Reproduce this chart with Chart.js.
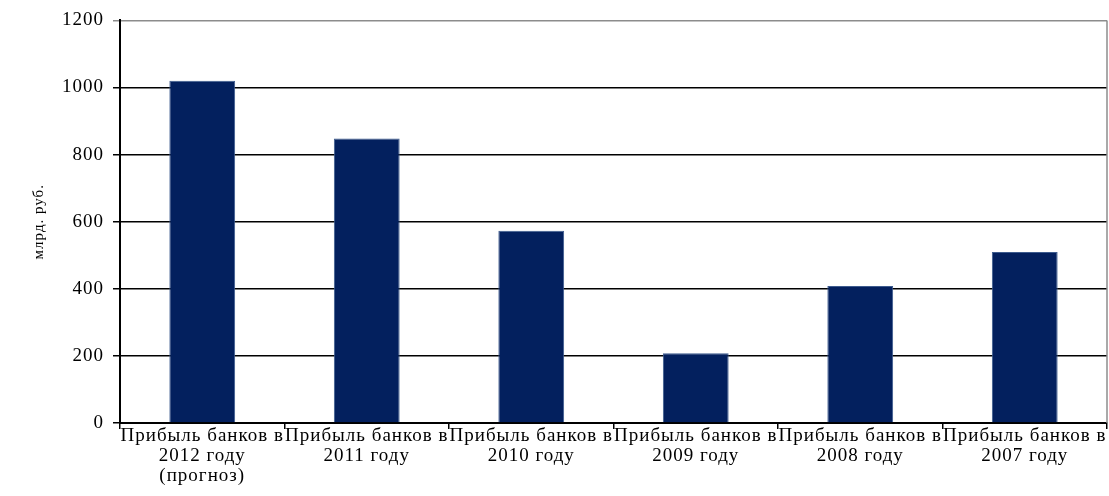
<!DOCTYPE html>
<html>
<head>
<meta charset="utf-8">
<script src="https://cdn.jsdelivr.net/npm/chart.js@4"></script>
<style>
  html, body { margin: 0; padding: 0; background: #fff; }
  #wrap { width: 1109px; height: 496px; }
</style>
</head>
<body>
<div id="wrap"><canvas id="profitChart"></canvas></div>
<script>
// Bank profit by year, bln rub
const years = [
    ['Прибыль банков в', '2012 году', '(прогноз)'],
    ['Прибыль банков в', '2011 году'],
    ['Прибыль банков в', '2010 году'],
    ['Прибыль банков в', '2009 году'],
    ['Прибыль банков в', '2008 году'],
    ['Прибыль банков в', '2007 году']
];
const profit = [1020, 848, 573, 208, 408, 510];
const yTicks = [0, 200, 400, 600, 800, 1000, 1200];

const serif = 'Liberation Serif, Times New Roman, serif';

// slightly wider letter spacing for all chart text
const spacedText = {
    id: 'spacedText',
    beforeUpdate(chart) { chart.ctx.letterSpacing = '1px'; },
    beforeDraw(chart) { chart.ctx.letterSpacing = '1px'; }
};

// gray frame line along the right edge of the plot
const rightBorder = {
    id: 'rightBorder',
    afterDraw(chart) {
        const { ctx, chartArea } = chart;
        ctx.save();
        ctx.strokeStyle = '#8c8c8c';
        ctx.lineWidth = 1.5;
        ctx.beginPath();
        ctx.moveTo(chartArea.right, chartArea.top);
        ctx.lineTo(chartArea.right, chartArea.bottom);
        ctx.stroke();
        ctx.restore();
    }
};

new Chart(document.getElementById('profitChart'), {
    type: 'bar',
    data: {
        labels: years,
        datasets: [{
            data: profit,
            backgroundColor: '#03205e',
            borderColor: '#3d5b8e',
            borderWidth: 1,
            categoryPercentage: 1,
            barPercentage: 0.4
        }]
    },
    options: {
        responsive: true,
        maintainAspectRatio: false,
        animation: false,
        layout: { padding: { top: 20, right: 2, left: 0, bottom: 0 } },
        plugins: {
            legend: { display: false },
            tooltip: { enabled: false }
        },
        scales: {
            x: {
                grid: {
                    drawOnChartArea: false,
                    drawTicks: true,
                    tickLength: 6,
                    color: '#000',
                    lineWidth: 1.5
                },
                border: { color: '#000', width: 2 },
                ticks: {
                    color: '#000',
                    maxRotation: 0,
                    autoSkip: false,
                    padding: -3,
                    font: { family: serif, size: 19, lineHeight: 1.05 }
                },
                afterFit(scale) { scale.height = 73; }
            },
            y: {
                min: 0,
                max: 1200,
                afterBuildTicks(scale) {
                    scale.ticks = yTicks.map(v => ({ value: v }));
                },
                grid: {
                    color: ctx => ctx.tick && ctx.tick.value === 1200 ? '#8c8c8c' : '#000',
                    lineWidth: 1.5,
                    tickLength: 7
                },
                border: { color: '#000', width: 2 },
                ticks: {
                    color: '#000',
                    padding: 9,
                    font: { family: serif, size: 19 },
                    callback: v => String(v)
                },
                title: {
                    display: true,
                    text: 'млрд. руб.',
                    color: '#000',
                    padding: { top: 30, bottom: 0 },
                    font: { family: serif, size: 15 }
                },
                afterFit(scale) { scale.width = 120; }
            }
        }
    },
    plugins: [spacedText, rightBorder]
});
</script>
</body>
</html>
